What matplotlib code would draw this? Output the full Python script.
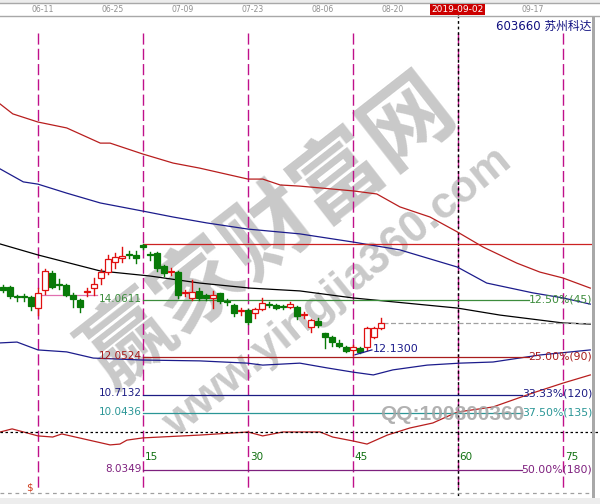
import matplotlib
matplotlib.use("Agg")
import matplotlib.pyplot as plt
from matplotlib.patches import Rectangle

W, H = 600, 504

# candles, bar index 0..54
opens = [14.54, 14.54, 14.19, 14.19, 14.18, 13.79, 14.43, 15.04, 14.62, 14.61,
         14.26, 14.08, 14.36, 14.50, 14.86, 15.07, 15.43, 15.57, 15.68, 15.68,
         16.03, 15.68, 15.75, 15.29, 15.07, 15.07, 14.32, 14.15, 14.40, 14.26,
         14.15, 14.33, 14.01, 13.90, 13.68, 13.72, 13.61, 13.76, 13.90, 13.90,
         13.83, 13.83, 13.83, 13.54, 13.12, 13.33, 12.90, 12.76, 12.55, 12.40,
         12.30, 12.37, 12.40, 12.76, 13.08]
highs = [14.61, 14.58, 14.26, 14.29, 14.22, 14.50, 15.18, 15.11, 14.82, 14.65,
         14.33, 14.11, 14.50, 14.86, 15.18, 15.68, 15.75, 15.96, 15.82, 15.82,
         16.07, 15.79, 15.79, 15.32, 15.22, 15.11, 14.43, 14.79, 14.50, 14.29,
         14.40, 14.33, 14.11, 13.94, 13.79, 13.76, 13.79, 14.15, 14.01, 13.94,
         13.90, 14.01, 13.86, 13.65, 13.40, 13.44, 12.90, 12.80, 12.65, 12.44,
         12.48, 12.40, 13.12, 13.12, 13.44]
lows = [14.36, 14.15, 14.04, 14.04, 13.72, 13.54, 14.29, 14.50, 14.47, 14.22,
        13.83, 13.65, 14.22, 14.26, 14.65, 15.00, 15.22, 15.43, 15.57, 15.39,
        15.89, 15.50, 15.11, 14.93, 14.97, 14.15, 14.22, 14.08, 14.08, 14.08,
        13.79, 13.97, 13.90, 13.51, 13.54, 13.22, 13.44, 13.72, 13.83, 13.76,
        13.76, 13.79, 13.40, 13.44, 12.94, 13.12, 12.37, 12.44, 12.40, 12.23,
        12.13, 12.19, 12.30, 12.73, 13.05]
closes = [14.43, 14.22, 14.18, 14.18, 13.86, 14.33, 15.11, 14.54, 14.61, 14.26,
          14.11, 13.83, 14.37, 14.65, 15.07, 15.54, 15.61, 15.64, 15.67, 15.57,
          15.96, 15.67, 15.22, 15.04, 15.08, 14.26, 14.33, 14.36, 14.15, 14.15,
          14.26, 14.04, 14.00, 13.61, 13.69, 13.29, 13.76, 13.97, 13.89, 13.79,
          13.82, 13.94, 13.51, 13.55, 13.37, 13.19, 12.76, 12.58, 12.44, 12.26,
          12.40, 12.23, 13.08, 13.08, 13.26]

# lines (bar index, price)
ma_red_x = [-0.4, 1.4, 5, 9.1, 13.9, 15.3, 20, 24.3, 28.1, 35, 37.1, 39.6, 42.4, 50, 53.4, 56.7, 61, 64.9, 68.6, 73.4, 76.7, 80, 83.9]
ma_red_y = [21.05, 20.70, 20.41, 20.20, 19.66, 19.66, 19.27, 18.95, 18.77, 18.38, 18.38, 18.17, 18.13, 17.96, 17.85, 17.39, 17.03, 16.50, 15.96, 15.39, 15.07, 14.86, 14.50]
ma_blue_x = [-0.4, 2.9, 5, 9.1, 13.9, 20, 24.3, 29.1, 35, 42.4, 50, 56.7, 64.9, 69.1, 75.7, 80, 83.9]
ma_blue_y = [18.74, 18.28, 18.20, 17.88, 17.53, 17.24, 17.03, 16.82, 16.60, 16.43, 16.14, 15.86, 15.25, 14.68, 14.33, 14.15, 13.93]
ma_black_x = [-0.4, 5, 13.9, 21, 28.1, 35.3, 42.4, 50, 64.9, 71, 80, 83.9]
ma_black_y = [16.07, 15.68, 15.11, 14.93, 14.68, 14.50, 14.40, 14.15, 13.79, 13.54, 13.26, 13.22]
band_blue_x = [-0.4, 2, 5, 9.1, 12.9, 20, 28.1, 34.9, 37.1, 42.4, 46.3, 50, 52.9, 55.7, 60.6, 65.3, 70, 76.7, 83.9]
band_blue_y = [12.55, 12.58, 12.30, 12.23, 12.01, 11.94, 11.91, 11.83, 11.76, 11.83, 11.66, 11.51, 11.41, 11.59, 11.76, 11.83, 11.87, 12.12, 12.30]
band_red_x = [-0.4, 1.3, 5, 7.1, 8.4, 15.3, 16.7, 17.7, 20, 28.1, 35, 37.1, 40, 45.3, 47.1, 50, 52, 54.9, 58.1, 61.4, 64.9, 70, 75.7, 80, 83.9]
band_red_y = [9.38, 9.49, 9.24, 9.20, 9.31, 8.92, 8.95, 9.09, 9.17, 9.27, 9.38, 9.24, 9.38, 9.38, 9.20, 9.06, 8.95, 9.27, 9.52, 9.70, 10.09, 10.27, 10.77, 11.12, 11.41]
base_line = 9.38

# Gann levels
high_bar = 20
high_price = 16.0698
low_bar = 50
low_price = 12.13
level_prices = [14.0611, 12.0524, 10.7132, 10.0436, 8.0349]
level_left = ["14.0611", "12.0524", "10.7132", "10.0436", "8.0349"]
level_right = ["12.50%(45)", "25.00%(90)", "33.33%(120)", "37.50%(135)", "50.00%(180)"]
level_colors = ["#3c8c3c", "#a81c1c", "#1c1c84", "#2a9696", "#7e207e"]

# time cycles
cycle_bars = [5, 20, 35, 50, 65, 80]
cycle_labels = ["", "15", "30", "45", "60", "75"]
date_pos = [5.7, 15.7, 25.7, 35.7, 45.7, 55.7, 75.6]
date_labels = ["06-11", "06-25", "07-09", "07-23", "08-06", "08-20", "09-17"]
today_pos = 64.9
today_label = "2019-09-02"

RED = "#e01010"
GREEN = "#087a08"

fig = plt.figure(figsize=(6, 5.04), dpi=100)
ax = fig.add_axes([0, 0, 1, 1])
ax.set_xlim(-3 / 7, 597 / 7)
ax.set_ylim(6.817, 24.753)
ax.axis("off")
xt = ax.get_xaxis_transform()


def fy(py):
    return 1 - py / H


# watermark
ax.text(270 / W, fy(232), "赢家财富网", transform=ax.transAxes, fontsize=64, fontweight="bold",
        family="Noto Sans CJK SC", color="#c9c9c9", rotation=38, ha="center", va="center",
        rotation_mode="anchor", zorder=1)
ax.text(0.563, 0.419, "www.yingjia360.com", transform=ax.transAxes, fontsize=32, fontweight="bold",
        family="Liberation Sans", color="#c9c9c9", rotation=39, ha="center", va="center",
        rotation_mode="anchor", zorder=1)

# cycle lines
for b, lab in zip(cycle_bars, cycle_labels):
    ax.plot([b, b], [fy(33), fy(490)], transform=xt, color="#c0108a", lw=1,
            ls=(0, (8, 3)), zorder=2)
    if lab:
        ax.text(b + 0.25, fy(457), lab, transform=xt, color="#107010", fontsize=7.5,
                ha="left", va="center", zorder=5)
ax.plot([today_pos + 0.1] * 2, [fy(15), fy(504)], transform=xt, color="black", lw=1,
        ls=(0, (2, 2)), zorder=3)
ax.text(cycle_bars[0] - 1.2, fy(487), "$", transform=xt, color="#d04020", fontsize=7.5,
        ha="center", va="center")

# moving averages and bands
ax.plot(ma_red_x, ma_red_y, color="#b81e1e", lw=0.9, zorder=3)
ax.plot(ma_blue_x, ma_blue_y, color="#1c1c8c", lw=0.9, zorder=3)
ax.plot(ma_black_x, ma_black_y, color="black", lw=0.9, zorder=3)
ax.plot(band_blue_x, band_blue_y, color="#1c1c8c", lw=0.9, zorder=3)
ax.plot(band_red_x, band_red_y, color="#b81e1e", lw=0.9, zorder=3)
ax.axhline(base_line, color="black", lw=0.9, ls=(0, (2, 2)), zorder=3)

# levels
right_edge = 84.3
ax.plot([high_bar, right_edge], [high_price, high_price], color="#cc2222", lw=0.9, zorder=3)
ax.plot([5, 13.4], [14.255, 14.255], color="#e070b0", lw=0.9, zorder=3)
fig.canvas.draw()
rend = fig.canvas.get_renderer()
for p, ll, rl, c in zip(level_prices, level_left, level_right, level_colors):
    ax.text(high_bar - 0.15, p + 0.04, ll, color=c, fontsize=7.5, ha="right", va="center", zorder=5)
    t = ax.text(right_edge - 0.1, p + 0.02, rl, color=c, fontsize=7.8, ha="right", va="center", zorder=5)
    bb = t.get_window_extent(renderer=rend)
    x_end = ax.transData.inverted().transform((bb.x0, 0))[0]
    ax.plot([high_bar, x_end], [p, p], color=c, lw=0.9, zorder=3)

# last close dashed
ax.plot([len(closes) - 0.7, right_edge], [closes[-1], closes[-1]], color="#a0a0a0", lw=0.9,
        ls=(0, (4, 2)), zorder=3)

# candles
for i, (o, h, l, c) in enumerate(zip(opens, highs, lows, closes)):
    up = c >= o
    col = RED if up else GREEN
    ax.plot([i, i], [l, h], color=col, lw=1, zorder=4)
    bot = min(o, c)
    hgt = max(abs(c - o), 0.035)
    ax.add_patch(Rectangle((i - 0.36, bot), 0.72, hgt, facecolor="white" if up else col,
                           edgecolor=col, lw=0.9, zorder=5))

# low label
ax.plot([low_bar + 0.3, low_bar + 2.7], [low_price, low_price + 0.17], color="#1c1c8c", lw=0.9, zorder=5)
ax.text(low_bar + 2.8, low_price + 0.2, "12.1300", color="#1c1c8c", fontsize=8, ha="left",
        va="center", zorder=5)

# QQ watermark
ax.text(380 / W, fy(415), "QQ:100800360", transform=ax.transAxes, fontsize=15, fontweight="bold",
        family="Liberation Sans", color="#a4a4a4", alpha=0.85, ha="left", va="center", zorder=6)

# header
ax.add_patch(Rectangle((0, fy(3)), 1, 3 / H, transform=ax.transAxes, facecolor="#ececec",
                       edgecolor="none", zorder=6))
ax.plot([0, 1], [fy(3), fy(3)], transform=ax.transAxes, color="#a8a8a8", lw=1, zorder=7)
ax.plot([0, 1], [fy(16), fy(16)], transform=ax.transAxes, color="#a8a8a8", lw=1, zorder=7)
for p, lab in zip(date_pos, date_labels):
    ax.text(p, fy(10), lab, transform=xt, color="#909090", fontsize=5.6, ha="center",
            va="center", zorder=7)
ax.text(today_pos, fy(9.5), today_label, transform=xt, color="white", fontsize=6.5, ha="center",
        va="center", zorder=8,
        bbox=dict(boxstyle="square,pad=0.12", facecolor="#cc0000", edgecolor="none"))
ax.text(591 / W, fy(26), "603660 苏州科达", transform=ax.transAxes, color="#101080",
        fontsize=8.5, family=["DejaVu Sans", "Noto Sans CJK SC"], ha="right", va="center", zorder=7)

# frame bits
ax.add_patch(Rectangle((592 / W, fy(500)), 2.5 / W, 484 / H, transform=ax.transAxes,
                       facecolor="#a8a8a8", edgecolor="none", zorder=7))
ax.plot([0, 592 / W], [fy(493), fy(493)], transform=ax.transAxes, color="#a0a0a0", lw=0.9,
        ls=(0, (3, 3)), zorder=7)
ax.add_patch(Rectangle((0, 0), 1, 6 / H, transform=ax.transAxes, facecolor="#ededed",
                       edgecolor="none", zorder=7))

fig.savefig("out.png", dpi=100)
